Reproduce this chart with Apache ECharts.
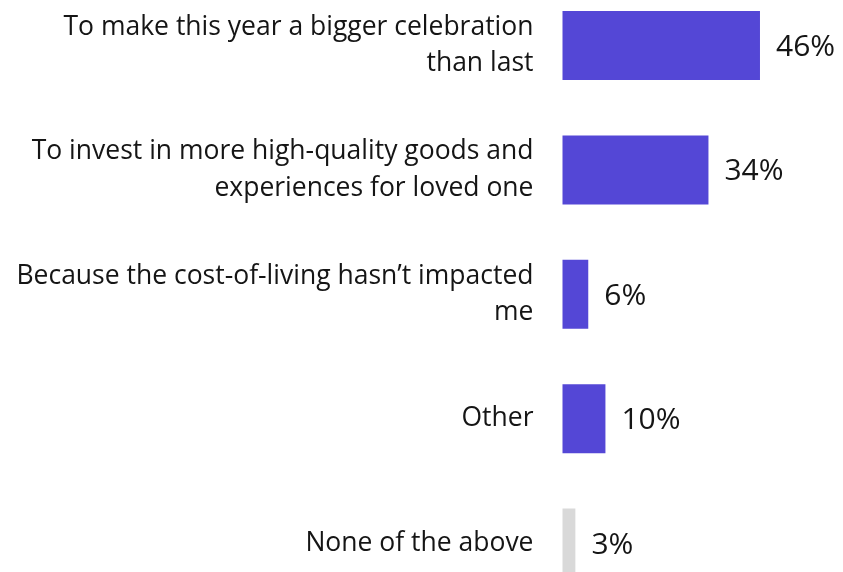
<!DOCTYPE html>
<html>
<head>
<meta charset="utf-8">
<script src="https://cdn.jsdelivr.net/npm/echarts@6/dist/echarts.min.js"></script>
<style>html,body{margin:0;padding:0;background:#fff;}#c{width:843px;height:572px;}</style>
</head>
<body>
<div id="c"></div>
<script>
const categories = [
  "To make this year a bigger celebration\nthan last",
  "To invest in more high-quality goods and\nexperiences for loved one",
  "Because the cost-of-living hasn\u2019t impacted\nme",
  "Other",
  "None of the above"
];
const values = [46, 34, 6, 10, 3];
const barColors = ["#5447d6", "#5447d6", "#5447d6", "#5447d6", "#d9d9d9"];

const chart = echarts.init(document.getElementById('c'), null, {renderer: 'canvas'});
chart.setOption({
  animation: false,
  grid: {left: 562.5, top: -16.7, height: 622, width: 214.65, containLabel: false, outerBoundsMode: 'none'},
  xAxis: {type: 'value', min: 0, max: 50, show: false},
  yAxis: {
    type: 'category', data: categories, inverse: true,
    axisLine: {show: false}, axisTick: {show: false},
    axisLabel: {
      margin: 29, fontFamily: 'Open Sans', fontSize: 26.5, lineHeight: 36.5,
      color: '#151515', align: 'right', padding: [2, 0, 0, 0]
    }
  },
  series: [{
    type: 'bar', barWidth: 69,
    data: values.map((v, i) => ({value: v, itemStyle: {color: barColors[i]}})),
    label: {
      show: true, position: 'right', distance: 16, offset: [0, 2],
      formatter: p => p.value + '%',
      fontFamily: 'Open Sans', fontSize: 30, color: '#151515'
    }
  }]
});
</script>
</body>
</html>
